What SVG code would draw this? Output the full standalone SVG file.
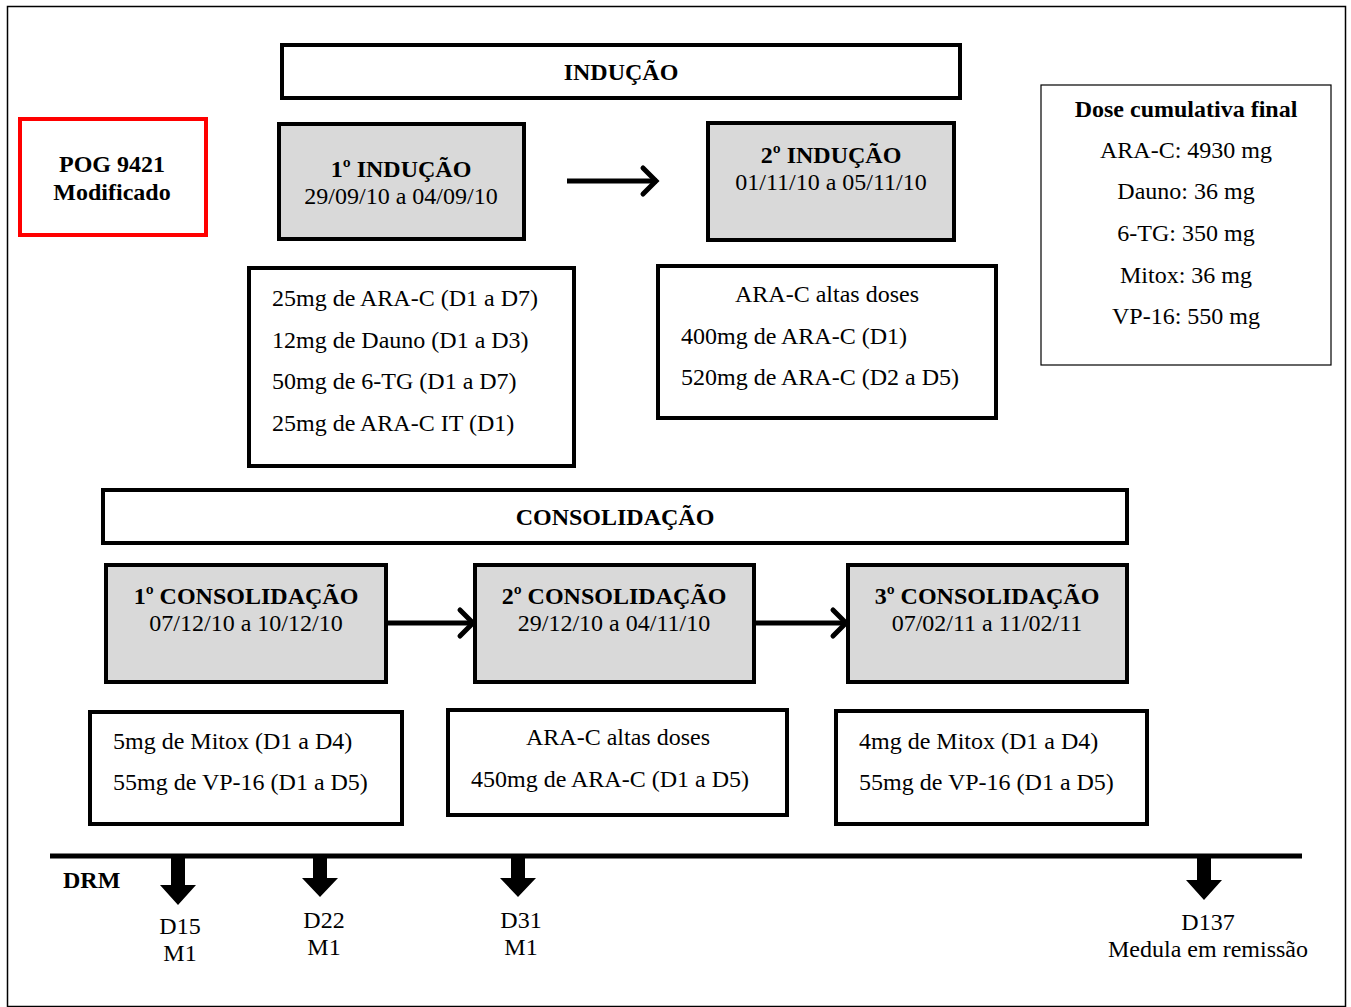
<svg xmlns="http://www.w3.org/2000/svg" width="1351" height="1007" viewBox="0 0 1351 1007">
<defs>
<style>
text{font-family:"Liberation Serif","Times New Roman",serif;font-size:24px;fill:#000}
.b{font-weight:bold}
.c{text-anchor:middle}
.box{fill:#fff;stroke:#000;stroke-width:4}
.gray{fill:#d9d9d9;stroke:#000;stroke-width:4}
.thin{fill:#fff;stroke:#000;stroke-width:1.2}
.conn{stroke:#000;stroke-width:5;fill:none}
.blk{fill:#000}
</style>
<marker id="chev" markerUnits="userSpaceOnUse" markerWidth="30" markerHeight="34" refX="22" refY="17" orient="auto" viewBox="0 0 30 34">
<polyline points="8,4 21,17 8,30" fill="none" stroke="#000" stroke-width="5" stroke-linecap="round" stroke-linejoin="miter"/>
</marker>
</defs>
<rect x="0" y="0" width="1351" height="1007" fill="#fff"/>
<rect x="7.5" y="6.5" width="1338" height="1000" fill="none" stroke="#000" stroke-width="1.5"/>

<g id="inducao-header"><rect class="box" x="282" y="45" width="678" height="53"/><text class="b c" x="621" y="80">INDUÇÃO</text></g>
<g id="pog"><rect x="20" y="119" width="186" height="116" fill="#fff" stroke="#ff0000" stroke-width="4"/><text class="b c" x="112" y="172">POG 9421</text><text class="b c" x="112" y="200">Modificado</text></g>
<g id="inducao1"><rect class="gray" x="279" y="124" width="245" height="115"/><text class="b c" x="401" y="177">1º INDUÇÃO</text><text class="c" x="401" y="204">29/09/10 a 04/09/10</text></g>
<g id="inducao2"><rect class="gray" x="708" y="123" width="246" height="117"/><text class="b c" x="831" y="163">2º INDUÇÃO</text><text class="c" x="831" y="190">01/11/10 a 05/11/10</text></g>
<g id="dose"><rect class="thin" x="1041" y="85" width="290" height="280"/>
<text class="b c" x="1186" y="117">Dose cumulativa final</text>
<text class="c" x="1186" y="158">ARA-C: 4930 mg</text>
<text class="c" x="1186" y="199">Dauno: 36 mg</text>
<text class="c" x="1186" y="241">6-TG: 350 mg</text>
<text class="c" x="1186" y="283">Mitox: 36 mg</text>
<text class="c" x="1186" y="324">VP-16: 550 mg</text></g>
<g id="drugs-ind1"><rect class="box" x="249" y="268" width="325" height="198"/>
<text x="272" y="306">25mg de ARA-C (D1 a D7)</text>
<text x="272" y="348">12mg de Dauno (D1 a D3)</text>
<text x="272" y="389">50mg de 6-TG (D1 a D7)</text>
<text x="272" y="431">25mg de ARA-C IT (D1)</text></g>
<g id="drugs-ind2"><rect class="box" x="658" y="266" width="338" height="152"/>
<text class="c" x="827" y="302">ARA-C altas doses</text>
<text x="681" y="344">400mg de ARA-C (D1)</text>
<text x="681" y="385">520mg de ARA-C (D2 a D5)</text></g>

<g id="consol-header"><rect class="box" x="103" y="490" width="1024" height="53"/><text class="b c" x="615" y="525">CONSOLIDAÇÃO</text></g>
<g id="consol1"><rect class="gray" x="106" y="565" width="280" height="117"/><text class="b c" x="246" y="604">1º CONSOLIDAÇÃO</text><text class="c" x="246" y="631">07/12/10 a 10/12/10</text></g>
<g id="consol2"><rect class="gray" x="475" y="565" width="279" height="117"/><text class="b c" x="614" y="604">2º CONSOLIDAÇÃO</text><text class="c" x="614" y="631">29/12/10 a 04/11/10</text></g>
<g id="consol3"><rect class="gray" x="848" y="565" width="279" height="117"/><text class="b c" x="987" y="604">3º CONSOLIDAÇÃO</text><text class="c" x="987" y="631">07/02/11 a 11/02/11</text></g>
<g id="drugs-c1"><rect class="box" x="90" y="712" width="312" height="112"/>
<text x="113" y="749">5mg de Mitox (D1 a D4)</text>
<text x="113" y="790">55mg de VP-16 (D1 a D5)</text></g>
<g id="drugs-c2"><rect class="box" x="448" y="710" width="339" height="105"/>
<text class="c" x="618" y="745">ARA-C altas doses</text>
<text x="471" y="787">450mg de ARA-C (D1 a D5)</text></g>
<g id="drugs-c3"><rect class="box" x="836" y="711" width="311" height="113"/>
<text x="859" y="749">4mg de Mitox (D1 a D4)</text>
<text x="859" y="790">55mg de VP-16 (D1 a D5)</text></g>

<g id="connectors">
<line class="conn" x1="567" y1="181" x2="657" y2="181" marker-end="url(#chev)"/>
<line class="conn" x1="386" y1="623" x2="474" y2="623" marker-end="url(#chev)"/>
<line class="conn" x1="756" y1="623" x2="847" y2="623" marker-end="url(#chev)"/>
</g>

<g id="timeline">
<line x1="50" y1="856" x2="1302" y2="856" stroke="#000" stroke-width="5"/>
<text class="b" x="63" y="888">DRM</text>
<polygon class="blk" points="171,858 185,858 185,885 196,885 178,905 160,885 171,885"/>
<polygon class="blk" points="313,858 327,858 327,878 338,878 320,897 302,878 313,878"/>
<polygon class="blk" points="511,858 525,858 525,878 536,878 518,897 500,878 511,878"/>
<polygon class="blk" points="1197,858 1211,858 1211,880 1222,880 1204,900 1186,880 1197,880"/>
<text class="c" x="180" y="934">D15</text><text class="c" x="180" y="961">M1</text>
<text class="c" x="324" y="928">D22</text><text class="c" x="324" y="955">M1</text>
<text class="c" x="521" y="928">D31</text><text class="c" x="521" y="955">M1</text>
<text class="c" x="1208" y="930">D137</text><text class="c" x="1208" y="957">Medula em remissão</text>
</g>
</svg>
